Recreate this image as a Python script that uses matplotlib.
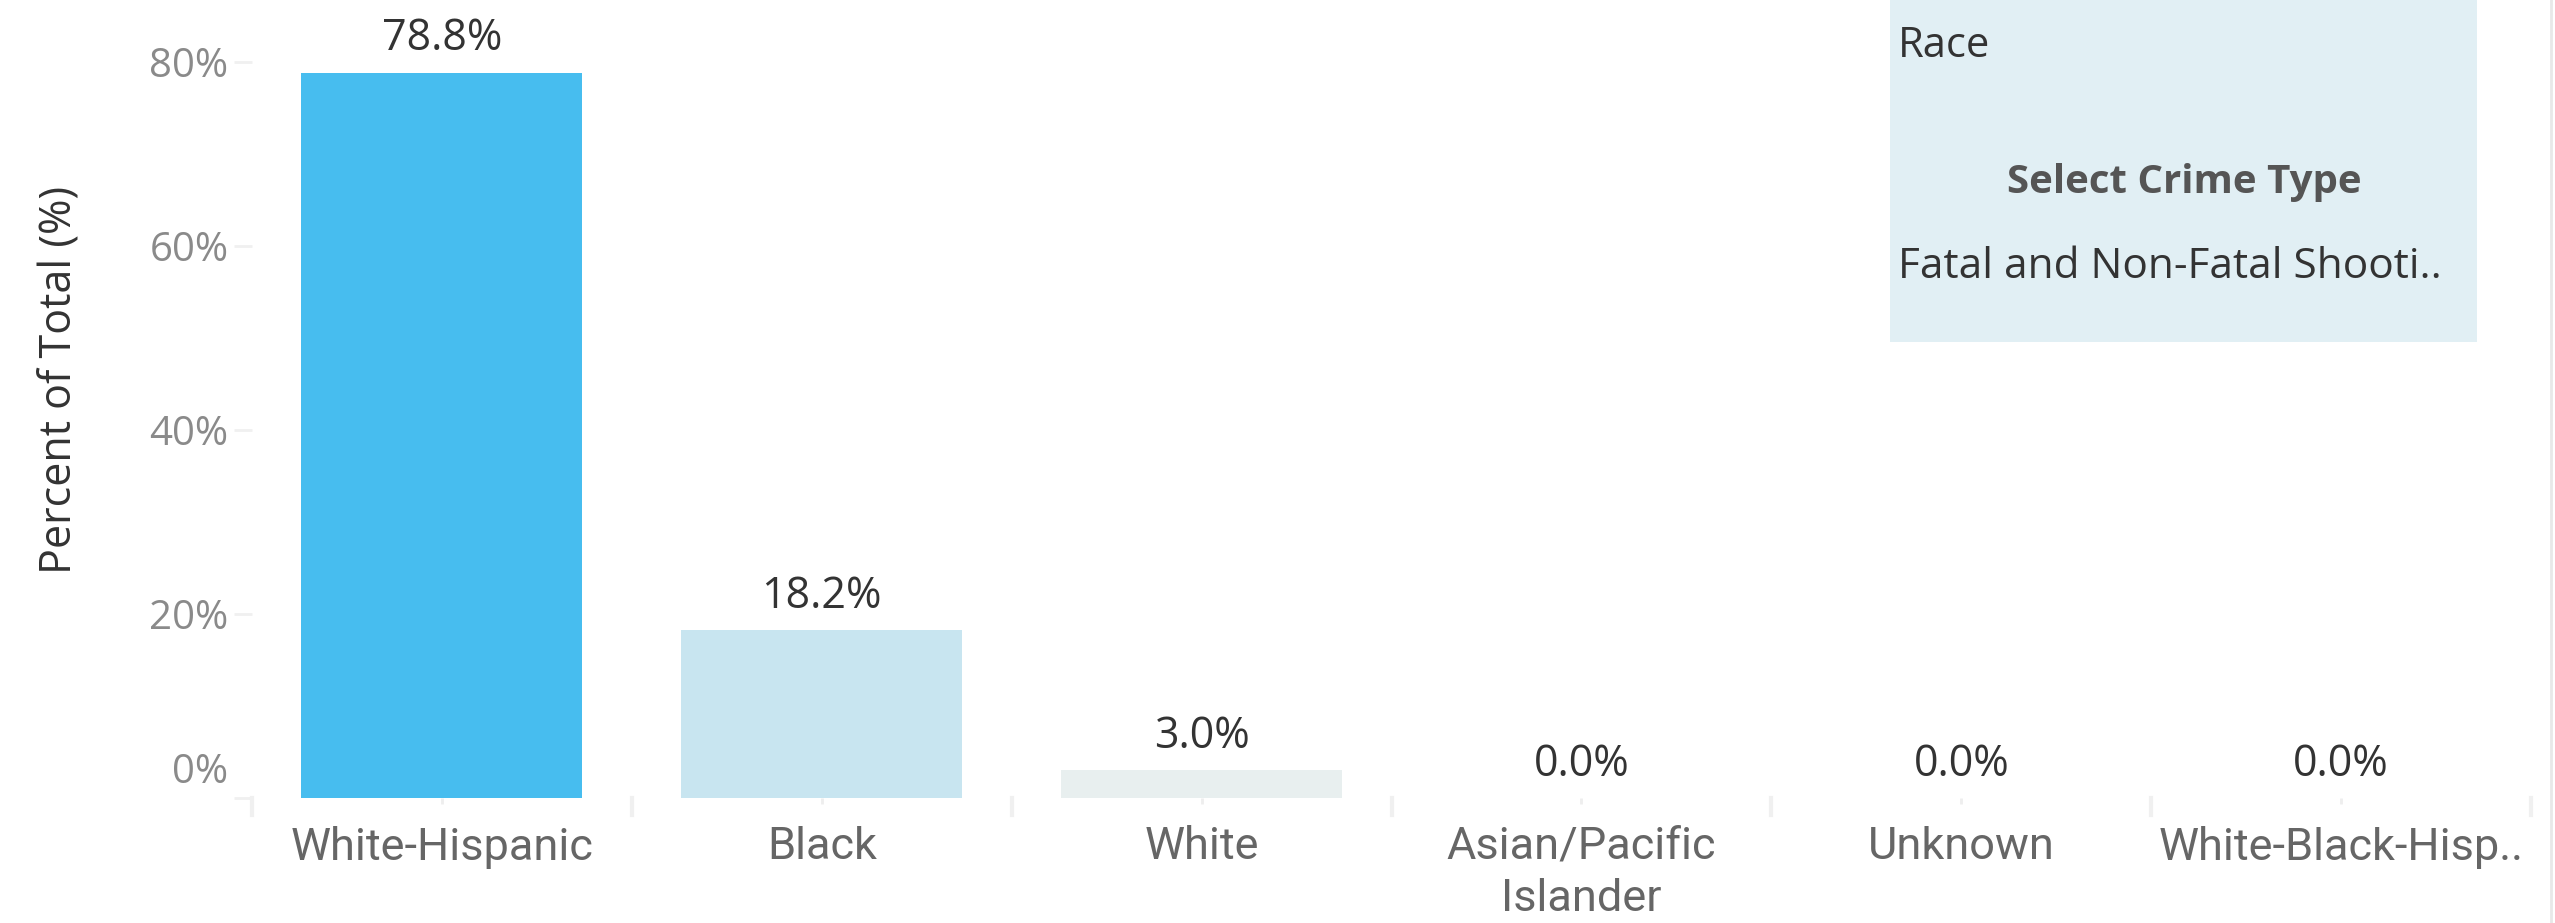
import matplotlib
matplotlib.use("Agg")
import matplotlib.pyplot as plt
import matplotlib.transforms as mtransforms
from matplotlib.patches import Rectangle
import numpy as np

# ---- data ----
categories = ["White-Hispanic", "Black", "White", "Asian/Pacific\nIslander", "Unknown", "White-Black-Hisp.."]
values = [78.8, 18.2, 3.0, 0.0, 0.0, 0.0]
value_labels = ["78.8%", "18.2%", "3.0%", "0.0%", "0.0%", "0.0%"]
bar_colors = ["#47BDEF", "#C8E5F0", "#E8EFEF", "#E8EFEF", "#E8EFEF", "#E8EFEF"]
yticks = [0, 20, 40, 60, 80]
ytick_labels = ["0%", "20%", "40%", "60%", "80%"]
y_label = "Percent of Total (%)"
legend_title = "Race"
filter_title = "Select Crime Type"
filter_value = "Fatal and Non-Fatal Shooti.."

W, H, DPI = 25.55, 9.23, 100
fig = plt.figure(figsize=(W, H), dpi=DPI)
fig.patch.set_facecolor("white")

px_w, px_h = W * DPI, H * DPI
left, right = 252 / px_w, 2531 / px_w
base = 798
ax = fig.add_axes([left, 1 - base / px_h, right - left, base / px_h])
ax.set_facecolor("none")

x = np.arange(len(categories))
ax.bar(x, values, width=0.74, color=bar_colors, zorder=2)
ax.set_xlim(-0.5, len(categories) - 0.5)
ax.set_ylim(0, 86.7)

for s in ax.spines.values():
    s.set_visible(False)

# value labels
for xi, v, lab in zip(x, values, value_labels):
    ax.annotate(lab, (xi, v), xytext=(0, 16), textcoords="offset points",
                ha="center", va="baseline", fontsize=31, color="#333333",
                family="Open Sans")

# y axis
ax.set_yticks(yticks)
ax.set_yticklabels(ytick_labels, fontsize=29, color="#8a8a8a", family="Open Sans")
ax.tick_params(axis="y", length=13, width=2, color="#f0f0f0", pad=4)
for t in ax.get_yticklabels():
    if t.get_text() == "0%":
        t.set_transform(t.get_transform() + mtransforms.ScaledTranslation(0, 0.30, fig.dpi_scale_trans))
fig.text(60 / px_w, 1 - 380 / px_h, y_label, rotation=90, ha="center", va="center",
         fontsize=31, color="#333333", family="Open Sans")

# x axis
ax.set_xticks(x)
ax.set_xticklabels(categories, fontsize=32.5, color="#666666", family="Roboto", linespacing=1.3)
ax.tick_params(axis="x", length=4, width=2, color="#eeeeee", pad=16)

# category separators below baseline
trans = mtransforms.blended_transform_factory(ax.transData, ax.transAxes)
for b in np.arange(len(categories) + 1) - 0.5:
    ax.plot([b, b], [0, -17 / base], transform=trans, color="#f0f0f0", lw=3, clip_on=False)

# filter / legend panel
fig.patches.append(Rectangle((1890 / px_w, 1 - 342 / px_h), (2477 - 1890) / px_w, 342 / px_h,
                             transform=fig.transFigure, facecolor="#E1EFF4", edgecolor="none", zorder=0))
fig.text(1898 / px_w, 1 - 57 / px_h, legend_title, ha="left", va="baseline", fontsize=30,
         color="#333333", family="Open Sans")
fig.text(2184 / px_w, 1 - 193 / px_h, filter_title, ha="center", va="baseline", fontsize=29,
         color="#555555", family="Open Sans", weight="bold")
fig.text(1898 / px_w, 1 - 278 / px_h, filter_value, ha="left", va="baseline", fontsize=30.5,
         color="#333333", family="Open Sans")

# right edge line
fig.add_artist(plt.Line2D([2551 / px_w, 2551 / px_w], [0, 1], transform=fig.transFigure,
                          color="#e8e8e8", lw=2))

fig.savefig("out.png", dpi=DPI)
